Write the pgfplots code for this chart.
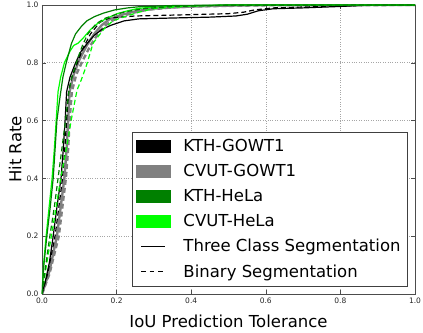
\documentclass[border=0pt]{standalone}
\usepackage{pgfplots}
\pgfplotsset{compat=1.18}
\usepackage{fontspec}
\setmainfont{DejaVu Sans}
\definecolor{cgray}{RGB}{128,128,128}
\definecolor{cdgreen}{RGB}{0,128,0}
\definecolor{clime}{RGB}{0,255,0}
\begin{document}
\begin{tikzpicture}
\useasboundingbox (0,0) rectangle (423pt,332pt);
\begin{axis}[
  at={(42pt,38pt)}, anchor=south west,
  scale only axis, width=373pt, height=289pt,
  xmin=0, xmax=1, ymin=0, ymax=1,
  xtick={0,0.2,0.4,0.6,0.8,1}, ytick={0,0.2,0.4,0.6,0.8,1},
  /pgf/number format/.cd, fixed, fixed zerofill, precision=1, assume math mode=true, /pgfplots/.cd,
  grid=major, grid style={dotted, black!35, line width=0.6pt},
  tick align=inside, major tick length=4pt,
  axis line style={black!70, line width=0.8pt},
  every tick/.style={black!70},
  tick label style={font=\fontsize{7.5}{8}\selectfont, text=black!85},
  xlabel={IoU Prediction Tolerance}, ylabel={Hit Rate},
  label style={font=\fontsize{16.5}{18}\selectfont},
  xlabel style={yshift=-5pt},
  ylabel style={yshift=-2pt},
  legend style={at={(0.981,0.561)}, anchor=north east, draw=black!75, line width=0.6pt,
    font=\fontsize{16.5}{18}\selectfont, inner xsep=4pt, inner ysep=5.5pt, row sep=7.2pt,
    nodes={inner ysep=2pt, inner xsep=3pt},
    /tikz/every odd column/.append style={column sep=10pt}},
  legend cell align=left,
]
% CVUT-GOWT1
\addplot[cgray, line width=2.4pt, forget plot] coordinates {(0,0) (0.02,0.08) (0.04,0.2) (0.06,0.4) (0.066,0.5) (0.07,0.6) (0.074,0.7) (0.085,0.76) (0.1,0.81) (0.12,0.86) (0.14,0.9) (0.16,0.93) (0.18,0.95) (0.21,0.965) (0.25,0.978) (0.3,0.988) (0.4,0.995) (0.5,0.998) (0.6,1) (1,1)};
\addplot[cgray, line width=2.4pt, dash pattern=on 5pt off 3pt, forget plot] coordinates {(0,0) (0.02,0.07) (0.045,0.2) (0.064,0.4) (0.07,0.5) (0.074,0.6) (0.08,0.7) (0.092,0.76) (0.11,0.81) (0.13,0.86) (0.15,0.9) (0.17,0.93) (0.2,0.955) (0.24,0.972) (0.28,0.983) (0.35,0.992) (0.45,0.996) (0.6,0.999) (1,1)};
% KTH-GOWT1
\addplot[black, line width=1.2pt, forget plot] coordinates {(0,0) (0.01,0.05) (0.02,0.11) (0.03,0.2) (0.04,0.3) (0.051,0.4) (0.057,0.5) (0.062,0.6) (0.066,0.7) (0.075,0.75) (0.09,0.8) (0.105,0.84) (0.123,0.87) (0.14,0.895) (0.16,0.915) (0.185,0.93) (0.22,0.945) (0.26,0.952) (0.35,0.955) (0.45,0.958) (0.52,0.962) (0.55,0.968) (0.58,0.98) (0.62,0.987) (0.7,0.99) (0.8,0.995) (0.88,1.0) (1,1)};
\addplot[black, line width=1.2pt, dash pattern=on 5pt off 3pt, forget plot] coordinates {(0,0) (0.015,0.07) (0.035,0.2) (0.055,0.4) (0.061,0.5) (0.066,0.6) (0.071,0.7) (0.08,0.75) (0.095,0.8) (0.11,0.85) (0.13,0.9) (0.155,0.94) (0.18,0.955) (0.25,0.962) (0.35,0.965) (0.5,0.97) (0.54,0.975) (0.57,0.983) (0.62,0.99) (0.7,0.993) (0.85,0.998) (0.9,1) (1,1)};
% CVUT-HeLa
\addplot[clime, line width=1.2pt, dash pattern=on 5pt off 3pt, forget plot] coordinates {(0,0) (0.012,0.1) (0.025,0.2) (0.038,0.3) (0.05,0.4) (0.065,0.5) (0.078,0.6) (0.094,0.706) (0.105,0.74) (0.118,0.786) (0.137,0.868) (0.15,0.89) (0.168,0.92) (0.19,0.945) (0.222,0.96) (0.26,0.975) (0.3,0.988) (0.4,0.996) (0.5,1) (1,1)};
\addplot[clime, line width=1.2pt, forget plot] coordinates {(0,0) (0.004,0.1) (0.011,0.2) (0.019,0.3) (0.027,0.4) (0.033,0.5) (0.038,0.6) (0.043,0.7) (0.05,0.75) (0.06,0.8) (0.075,0.84) (0.085,0.86) (0.097,0.868) (0.11,0.885) (0.13,0.915) (0.15,0.937) (0.175,0.955) (0.204,0.971) (0.23,0.98) (0.257,0.988) (0.3,0.993) (0.4,0.997) (0.5,1) (1,1)};
% KTH-HeLa
\addplot[cdgreen, line width=1.2pt, dash pattern=on 5pt off 3pt, forget plot] coordinates {(0,0) (0.01,0.1) (0.021,0.2) (0.033,0.3) (0.043,0.4) (0.053,0.5) (0.063,0.6) (0.072,0.7) (0.08,0.75) (0.097,0.82) (0.11,0.865) (0.123,0.9) (0.145,0.935) (0.169,0.954) (0.2,0.968) (0.222,0.976) (0.27,0.987) (0.35,0.995) (0.5,0.999) (1,1)};
\addplot[cdgreen, line width=1.2pt, forget plot] coordinates {(0,0) (0.005,0.1) (0.013,0.2) (0.022,0.3) (0.03,0.4) (0.035,0.5) (0.04,0.6) (0.047,0.67) (0.056,0.75) (0.065,0.8) (0.079,0.867) (0.09,0.9) (0.105,0.925) (0.12,0.945) (0.141,0.96) (0.165,0.972) (0.195,0.983) (0.23,0.99) (0.26,0.994) (0.35,0.998) (0.5,1) (1,1)};
% legend
\addlegendimage{legend image code/.code={\fill[black] (0pt,-6pt) rectangle (34pt,6pt);}}
\addlegendentry{KTH-GOWT1}
\addlegendimage{legend image code/.code={\fill[cgray] (0pt,-6pt) rectangle (34pt,6pt);}}
\addlegendentry{CVUT-GOWT1}
\addlegendimage{legend image code/.code={\fill[cdgreen] (0pt,-6pt) rectangle (34pt,6pt);}}
\addlegendentry{KTH-HeLa}
\addlegendimage{legend image code/.code={\fill[clime] (0pt,-6pt) rectangle (34pt,6pt);}}
\addlegendentry{CVUT-HeLa}
\addlegendimage{legend image code/.code={\draw[black, line width=0.8pt] (5pt,0pt) -- (29pt,0pt);}}
\addlegendentry{Three Class Segmentation}
\addlegendimage{legend image code/.code={\draw[black, line width=0.8pt, dash pattern=on 4.5pt off 4pt] (5pt,0pt) -- (29pt,0pt);}}
\addlegendentry{Binary Segmentation}
\end{axis}
\end{tikzpicture}
\end{document}
